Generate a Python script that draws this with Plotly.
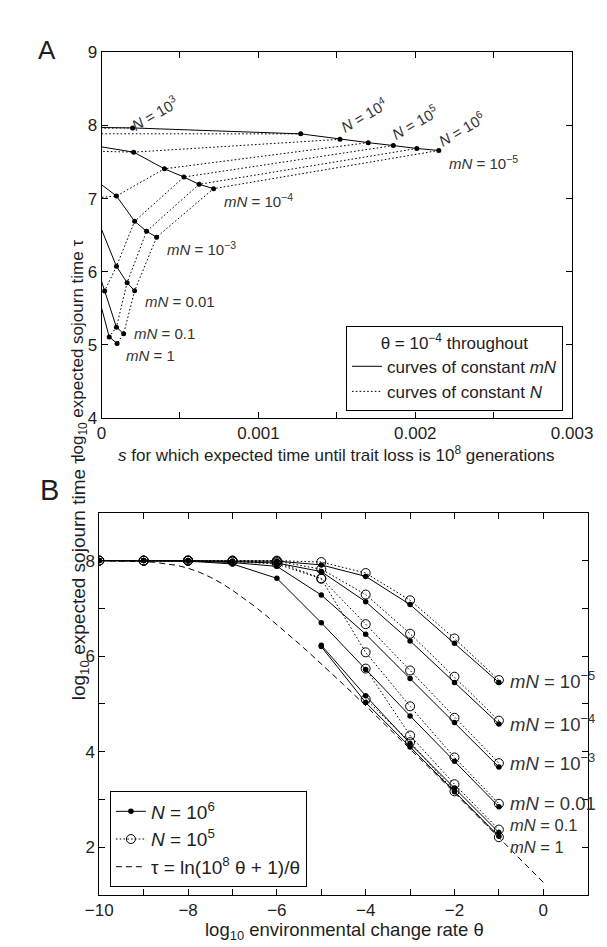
import plotly.graph_objects as go

# ---------------- Panel A data ----------------
# log10 N values of the grid (columns) and mN values (rows)
N_EXP = [2.5, 3, 3.5, 4, 4.5, 5, 5.5, 6]
MN_NAMES_A = ["1e-5", "1e-4", "1e-3", "0.01", "0.1", "1"]

# s for which expected trait-loss time is 1e8 generations (one row per mN)
s_mn_1e5 = [-0.0005, 0.000198, 0.00127, 0.00152, 0.0017, 0.00186, 0.00201, 0.00215]
s_mn_1e4 = [None, -0.0008, -0.00051, 0.000205, 0.000401, 0.000525, 0.000622, 0.000714]
s_mn_1e3 = [None, None, None, -0.00029, 0.000095, 0.000211, 0.000287, 0.000351]
s_mn_1e2 = [None, None, None, None, -0.000079, 0.000095, 0.000163, 0.000211]
s_mn_1e1 = [None, None, None, None, -0.00005, 0.00002, 0.000095, 0.000141]
s_mn_1 = [None, None, None, None, None, -0.00003, 0.000049, 0.000099]

# log10 expected sojourn time
tau_mn_1e5 = [7.985, 7.966, 7.885, 7.81, 7.765, 7.725, 7.685, 7.658]
tau_mn_1e4 = [None, 7.95, 7.886, 7.635, 7.407, 7.295, 7.195, 7.136]
tau_mn_1e3 = [None, None, None, 7.66, 7.036, 6.69, 6.553, 6.473]
tau_mn_1e2 = [None, None, None, None, 7.0, 6.074, 5.85, 5.74]
tau_mn_1e1 = [None, None, None, None, 6.2, 5.738, 5.242, 5.153]
tau_mn_1 = [None, None, None, None, None, 5.75, 5.11, 5.02]

S_ROWS = [s_mn_1e5, s_mn_1e4, s_mn_1e3, s_mn_1e2, s_mn_1e1, s_mn_1]
TAU_ROWS = [tau_mn_1e5, tau_mn_1e4, tau_mn_1e3, tau_mn_1e2, tau_mn_1e1, tau_mn_1]

# labels of panel A
N_LABELS_A = ["<i>N</i> = 10<sup>3</sup>", "<i>N</i> = 10<sup>4</sup>",
              "<i>N</i> = 10<sup>5</sup>", "<i>N</i> = 10<sup>6</sup>"]
MN_LABELS_A = ["<i>mN</i> = 10<sup>−5</sup>", "<i>mN</i> = 10<sup>−4</sup>",
               "<i>mN</i> = 10<sup>−3</sup>", "<i>mN</i> = 0.01",
               "<i>mN</i> = 0.1", "<i>mN</i> = 1"]
TICKS_A_X = [0, 0.001, 0.002, 0.003]
TICKTEXT_A_X = ["0", "0.001", "0.002", "0.003"]
MINOR_A_X = [0.0005, 0.0015, 0.0025]
TICKS_A_Y = [4, 5, 6, 7, 8, 9]

# ---------------- Panel B data ----------------
LOG_THETA = [-10, -9, -8, -7, -6, -5, -4, -3, -2, -1]
MN_LABELS_B = ["<i>mN</i> = 10<sup>−5</sup>", "<i>mN</i> = 10<sup>−4</sup>",
               "<i>mN</i> = 10<sup>−3</sup>", "<i>mN</i> = 0.01",
               "<i>mN</i> = 0.1", "<i>mN</i> = 1"]

# N = 1e6 (filled dots, solid)
n6_mn_1e5 = [8.00, 8.00, 8.00, 7.99, 7.99, 7.91, 7.67, 7.08, 6.27, 5.45]
n6_mn_1e4 = [8.00, 8.00, 8.00, 7.98, 7.95, 7.77, 7.14, 6.32, 5.45, 4.58]
n6_mn_1e3 = [8.00, 8.00, 7.99, 7.96, 7.88, 7.28, 6.46, 5.53, 4.61, 3.68]
n6_mn_1e2 = [8.00, 8.00, 7.99, 7.93, 7.63, 6.70, 5.72, 4.75, 3.80, 2.85]
n6_mn_1e1 = [None, None, None, None, None, 6.23, 5.17, 4.17, 3.24, 2.31]
n6_mn_1 = [None, None, None, None, None, 6.20, 5.03, 4.10, 3.16, 2.23]

# N = 1e5 (open circles, dotted)
n5_mn_1e5 = [8.00, 8.00, 8.00, 8.00, 8.00, 7.97, 7.74, 7.17, 6.37, 5.50]
n5_mn_1e4 = [8.00, 8.00, 8.00, 8.00, 7.99, 7.82, 7.29, 6.47, 5.57, 4.65]
n5_mn_1e3 = [8.00, 8.00, 8.00, 7.99, 7.97, 7.63, 6.67, 5.70, 4.71, 3.76]
n5_mn_1e2 = [8.00, 8.00, 8.00, 7.98, 7.93, 7.62, 6.08, 4.95, 3.88, 2.91]
n5_mn_1e1 = [None, None, None, None, None, None, 5.74, 4.34, 3.32, 2.37]
n5_mn_1 = [None, None, None, None, None, None, 5.10, 4.20, 3.17, 2.21]

N6_ROWS = [n6_mn_1e5, n6_mn_1e4, n6_mn_1e3, n6_mn_1e2, n6_mn_1e1, n6_mn_1]
N5_ROWS = [n5_mn_1e5, n5_mn_1e4, n5_mn_1e3, n5_mn_1e2, n5_mn_1e1, n5_mn_1]

# tau = ln(1e8 theta + 1)/theta
curve_log_theta = [-10, -9.75, -9.5, -9.25, -9, -8.75, -8.5, -8.25, -8, -7.75, -7.5,
                   -7.25, -7, -6.75, -6.5, -6.25, -6, -5.75, -5.5, -5.25, -5, -4.5,
                   -4, -3.5, -3, -2.5, -2, -1.5, -1, -0.5, 0]
curve_log_tau = [7.998, 7.996, 7.993, 7.988, 7.979, 7.964, 7.939, 7.900, 7.841, 7.759,
                 7.654, 7.527, 7.380, 7.217, 7.042, 6.857, 6.664, 6.465, 6.260, 6.052,
                 5.839, 5.406, 4.964, 4.515, 4.061, 3.603, 3.140, 2.675, 2.207, 1.737,
                 1.265]

TICKS_B_X = [-10, -8, -6, -4, -2, 0]
TICKTEXT_B_X = ["−10", "−8", "−6", "−4", "−2", "0"]
MINOR_B_X = [-9, -7, -5, -3, -1]
TICKS_B_Y = [2, 4, 6, 8]
MINOR_B_Y = [3, 5, 7]

# ---------------- figure ----------------
W, H = 607, 947
FONT = "Liberation Sans, Arial, Helvetica, sans-serif"
TXT = "#1e1e1e"


def px_x(p):
    return p / W


def px_y(p):
    return 1 - p / H


fig = go.Figure()

# Panel A: solid curves of constant mN
for i, (srow, trow) in enumerate(zip(S_ROWS, TAU_ROWS)):
    fig.add_trace(go.Scatter(
        x=srow, y=trow, mode="lines", xaxis="x", yaxis="y",
        line=dict(color="black", width=1),
        name="curves of constant <i>mN</i>", legend="legend",
        showlegend=(i == 0), hoverinfo="skip"))

# Panel A: dotted curves of constant N
for j in range(len(N_EXP)):
    xs = [row[j] for row in S_ROWS]
    ys = [row[j] for row in TAU_ROWS]
    fig.add_trace(go.Scatter(
        x=xs, y=ys, mode="lines", xaxis="x", yaxis="y",
        line=dict(color="black", width=1, dash="1.6px,2.2px"),
        name="curves of constant <i>N</i>", legend="legend",
        showlegend=(j == len(N_EXP) - 1), hoverinfo="skip"))

# Panel A: grid points
all_s = [v for row in S_ROWS for v in row]
all_t = [v for row in TAU_ROWS for v in row]
fig.add_trace(go.Scatter(
    x=all_s, y=all_t, mode="markers", xaxis="x", yaxis="y",
    marker=dict(color="black", size=5), showlegend=False, hoverinfo="skip"))

# Panel B: N = 1e6
for i, row in enumerate(N6_ROWS):
    fig.add_trace(go.Scatter(
        x=LOG_THETA, y=row, mode="lines+markers", xaxis="x2", yaxis="y2",
        line=dict(color="black", width=1),
        marker=dict(color="black", size=5.5, symbol="circle"),
        name="<i>N</i> = 10<sup>6</sup>", legend="legend2", legendrank=1,
        showlegend=(i == 0), hoverinfo="skip"))

# Panel B: N = 1e5
for i, row in enumerate(N5_ROWS):
    fig.add_trace(go.Scatter(
        x=LOG_THETA, y=row, mode="lines+markers", xaxis="x2", yaxis="y2",
        line=dict(color="black", width=1, dash="1.6px,2.2px"),
        marker=dict(color="black", size=9, symbol="circle-open",
                    line=dict(width=1, color="black")),
        name="<i>N</i> = 10<sup>5</sup>", legend="legend2", legendrank=2,
        showlegend=(i == 0), hoverinfo="skip"))

# Panel B: analytic curve
fig.add_trace(go.Scatter(
    x=curve_log_theta, y=curve_log_tau, mode="lines", xaxis="x2", yaxis="y2",
    line=dict(color="black", width=1, dash="6px,4px"),
    name="τ = ln(10<sup>8</sup> θ + 1)/θ", legend="legend2", legendrank=3,
    hoverinfo="skip"))

axis_common = dict(showline=True, linecolor="black", linewidth=1, mirror="ticks",
                   ticks="inside", ticklen=6, tickcolor="black", tickwidth=1,
                   showgrid=False, zeroline=False,
                   tickfont=dict(family=FONT, size=17, color=TXT))


def minor(vals):
    return dict(tickvals=vals, ticks="inside", ticklen=6, tickcolor="black",
                tickwidth=1, showgrid=False)


fig.update_layout(
    width=W, height=H, margin=dict(l=0, r=0, t=0, b=0),
    paper_bgcolor="white", plot_bgcolor="white",
    font=dict(family=FONT, color=TXT),
    xaxis=dict(domain=[px_x(84.4), px_x(583.8)], anchor="y", range=[0, 0.003],
               tickmode="array", tickvals=TICKS_A_X, ticktext=TICKTEXT_A_X,
               minor=minor(MINOR_A_X), **axis_common),
    yaxis=dict(domain=[px_y(409.3), px_y(36)], anchor="x", range=[4, 9],
               tickmode="array", tickvals=TICKS_A_Y,
               ticktext=[str(v) for v in TICKS_A_Y], **axis_common),
    xaxis2=dict(domain=[px_x(82), px_x(600.3)], anchor="y2", range=[-10, 1],
                tickmode="array", tickvals=TICKS_B_X, ticktext=TICKTEXT_B_X,
                minor=minor(MINOR_B_X), **axis_common),
    yaxis2=dict(domain=[px_y(896), px_y(506)], anchor="x2", range=[1, 9],
                tickmode="array", tickvals=TICKS_B_Y,
                ticktext=[str(v) for v in TICKS_B_Y],
                minor=minor(MINOR_B_Y), **axis_common),
    legend=dict(x=px_x(343.8), y=px_y(401.7), xanchor="left", yanchor="bottom",
                bgcolor="white", bordercolor="black", borderwidth=1,
                font=dict(family=FONT, size=17, color=TXT),
                title=dict(text="θ = 10<sup>−4</sup> throughout", side="top center",
                           font=dict(family=FONT, size=17, color=TXT)),
                tracegroupgap=0, itemwidth=30),
    legend2=dict(x=px_x(93.3), y=px_y(888.3), xanchor="left", yanchor="bottom",
                 bgcolor="white", bordercolor="black", borderwidth=1,
                 font=dict(family=FONT, size=19, color=TXT),
                 tracegroupgap=0, itemwidth=30, traceorder="normal"),
)

ann = []
# panel letters
ann.append(dict(text="A", x=px_x(14.5), y=px_y(16), xref="paper", yref="paper",
                showarrow=False, font=dict(size=26, family=FONT, color=TXT)))
ann.append(dict(text="B", x=px_x(17.5), y=px_y(482.5), xref="paper", yref="paper",
                showarrow=False, font=dict(size=29, family=FONT, color=TXT)))
# axis titles
ann.append(dict(text="log<sub>10</sub> expected sojourn time τ", x=px_x(47), y=px_y(225),
                xref="paper", yref="paper", textangle=-90, showarrow=False,
                font=dict(size=17, family=FONT, color=TXT)))
ann.append(dict(text="<i>s</i> for which expected time until trait loss is 10<sup>8</sup> generations",
                x=px_x(334), y=px_y(446), xref="paper", yref="paper", showarrow=False,
                font=dict(size=17, family=FONT, color=TXT)))
ann.append(dict(text="log<sub>10</sub> expected sojourn time τ", x=px_x(47.5), y=px_y(699),
                xref="paper", yref="paper", textangle=-90, showarrow=False,
                font=dict(size=19, family=FONT, color=TXT)))
ann.append(dict(text="log<sub>10</sub> environmental change rate θ", x=px_x(342),
                y=px_y(919), xref="paper", yref="paper", yanchor="top", showarrow=False,
                borderpad=0, font=dict(size=18.5, family=FONT, color=TXT)))

# panel A curve labels
N_LABEL_POS = [(0.00034, 8.176), (0.001668, 8.156), (0.001998, 8.056), (0.002292, 7.955)]
for txt, (xx, yy) in zip(N_LABELS_A, N_LABEL_POS):
    ann.append(dict(text=txt, x=xx, y=yy, xref="x", yref="y", textangle=-30,
                    showarrow=False, font=dict(size=15, family=FONT, color="#333")))
MN_LABEL_POS_A = [(0.002203, 7.50), (0.000768, 6.978), (0.000404, 6.312),
                  (0.000262, 5.59), (0.000194, 5.152), (0.000142, 4.861)]
for txt, (xx, yy) in zip(MN_LABELS_A, MN_LABEL_POS_A):
    ann.append(dict(text=txt, x=xx, y=yy, xref="x", yref="y", xanchor="left",
                    showarrow=False, font=dict(size=15, family=FONT, color="#333")))

# panel B curve labels
MN_LABEL_Y_B = [5.50, 4.61, 3.78, 2.92, 2.465, 2.015]
MN_LABEL_SIZE_B = [18.5, 18.5, 18.5, 18.5, 16.5, 16.5]
for txt, yy, fs in zip(MN_LABELS_B, MN_LABEL_Y_B, MN_LABEL_SIZE_B):
    ann.append(dict(text=txt, x=-0.78, y=yy, xref="x2", yref="y2", xanchor="left",
                    showarrow=False, borderpad=0,
                    font=dict(size=fs, family=FONT, color="#333")))

fig.update_layout(annotations=ann)
fig.write_html("out.html")
